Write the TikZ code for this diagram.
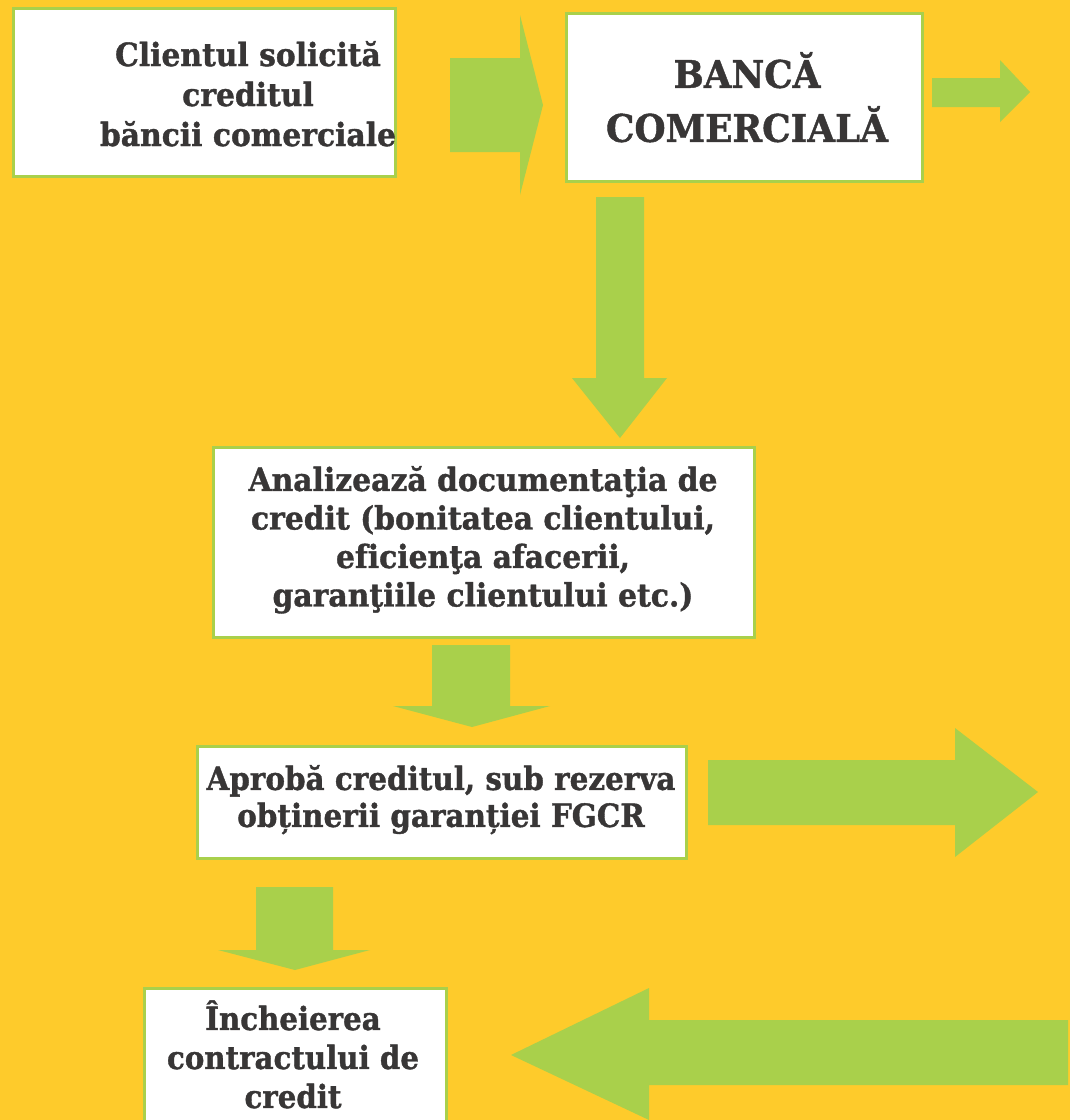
\documentclass[tikz,border=0pt]{standalone}
\usepackage{fontspec}
\setmainfont{DejaVu Serif}[Ligatures=CommonOff, BoldFeatures={FakeBold=1.2}]
\usepackage{graphicx}
\definecolor{bgy}{HTML}{FECB2B}
\definecolor{grn}{HTML}{A9D04B}
\definecolor{txtc}{HTML}{383636}
\newsavebox\tbox
\newcommand\fitblock[2]{%
  \sbox\tbox{\begin{tabular}{@{}c@{}}#2\end{tabular}}%
  \pgfmathsetmacro\fac{#1/\wd\tbox}%
  \scalebox{\fac}[1]{\usebox\tbox}}
\begin{document}
\begin{tikzpicture}[x=1pt,y=-1pt,
  box/.style={draw=grn, line width=3pt, fill=white, inner sep=0pt, anchor=north west},
  txt/.style={text=txtc, inner sep=0pt},
  arr/.style={fill=grn, draw=none}]
\fill[bgy] (0,0) rectangle (1070,1120);
\useasboundingbox (0,0) rectangle (1070,1120);
\clip (0,0) rectangle (1070,1120);
% boxes
\node[box, minimum width=382pt, minimum height=168pt] (b1) at (12,7) {};
\node[box, minimum width=356pt, minimum height=168pt] (b2) at (565,12) {};
\node[box, minimum width=541pt, minimum height=190pt] (b3) at (212,446) {};
\node[box, minimum width=489pt, minimum height=112pt] (b4) at (196,745) {};
\node[box, minimum width=302pt, minimum height=150pt] (b5) at (143,987) {};
% texts
\node[txt, font=\bfseries\fontsize{32}{40}\selectfont] (t1) at (248,98)
  {\fitblock{296}{Clientul solicită\\creditul\\băncii comerciale}};
\node[txt, font=\bfseries\fontsize{38}{54}\selectfont] (t2) at (747,104)
  {\fitblock{282}{BANCĂ\\COMERCIALĂ}};
\node[txt, font=\bfseries\fontsize{32}{38.5}\selectfont] (t3) at (483,541)
  {\fitblock{469}{Analizează documentaţia de\\credit (bonitatea clientului,\\eficienţa afacerii,\\garanţiile clientului etc.)}};
\node[txt, font=\bfseries\fontsize{32}{37}\selectfont] (t4) at (441,801)
  {\fitblock{469}{Aprobă creditul, sub rezerva\\obținerii garanției FGCR}};
\node[txt, font=\bfseries\fontsize{32}{39}\selectfont] (t5) at (293,1060)
  {\fitblock{252}{Încheierea\\contractului de\\credit}};
% block arrows
\fill[arr] (450,58) -- (520,58) -- (520,15) -- (543,105) -- (520,195) -- (520,152) -- (450,152) -- cycle;
\fill[arr] (932,78) -- (1000,78) -- (1000,60) -- (1030,92) -- (1000,122) -- (1000,107) -- (932,107) -- cycle;
\fill[arr] (596,197) -- (644,197) -- (644,378) -- (667,378) -- (620,438) -- (572,378) -- (596,378) -- cycle;
\fill[arr] (432,645) -- (510,645) -- (510,706) -- (550,706) -- (472,727) -- (393,706) -- (432,706) -- cycle;
\fill[arr] (708,760) -- (955,760) -- (955,728) -- (1038,792) -- (955,857) -- (955,825) -- (708,825) -- cycle;
\fill[arr] (256,887) -- (333,887) -- (333,950) -- (370,950) -- (295,970) -- (218,950) -- (256,950) -- cycle;
\fill[arr] (1068,1020) -- (649,1020) -- (649,988) -- (511,1055) -- (649,1120) -- (649,1085) -- (1068,1085) -- cycle;
\end{tikzpicture}
\end{document}
